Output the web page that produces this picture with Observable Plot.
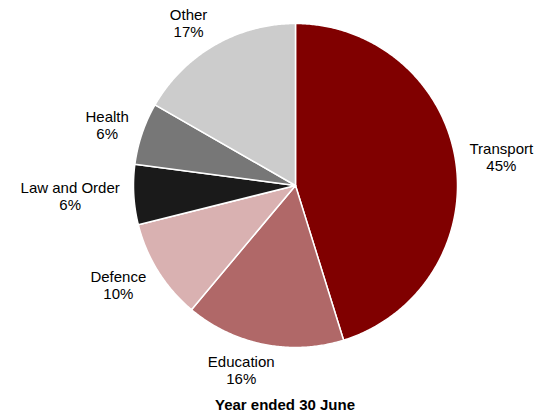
<!DOCTYPE html>
<html>
<head>
<meta charset="utf-8">
<script src="https://cdn.jsdelivr.net/npm/d3@7"></script>
<script src="https://cdn.jsdelivr.net/npm/@observablehq/plot@0.6"></script>
<style>
  body { margin: 0; background: #fff; font-family: "Liberation Sans", Arial, sans-serif; }
  #title { width: 539px; text-align: center; font-weight: bold; font-size: 15px; line-height: 18px; padding-left: 31px; box-sizing: border-box; color: #000; }
</style>
</head>
<body>
<div id="chart"></div>
<div id="title">Year ended 30 June</div>
<script>
const categories = ["Transport", "Education", "Defence", "Law and Order", "Health", "Other"];
const shares = [45.2, 15.9, 10.0, 6.0, 6.2, 16.7];
const colors = ["#800000", "#b06868", "#d9b1b1", "#1a1a1a", "#777777", "#cccccc"];

const W = 539, H = 396, R = 162, CX = 295, CY = 185;
const total = d3.sum(shares);

// slice geometry in unit-circle coordinates (angle clockwise from 12 o'clock)
const slices = [];
let acc = 0;
categories.forEach((c, i) => {
  const a0 = acc / total * 2 * Math.PI;
  acc += shares[i];
  const a1 = acc / total * 2 * Math.PI;
  slices.push({category: c, value: shares[i], a0, a1, mid: (a0 + a1) / 2});
});

const pts = [];
for (const s of slices) {
  pts.push({category: s.category, x: 0, y: 0});
  const n = Math.max(2, Math.ceil((s.a1 - s.a0) / (Math.PI / 360)));
  for (let k = 0; k <= n; k++) {
    const a = s.a0 + (s.a1 - s.a0) * k / n;
    pts.push({category: s.category, x: Math.sin(a), y: Math.cos(a)});
  }
  pts.push({category: s.category, x: 0, y: 0});
}

// label placement outside the slice (best-fit style)
const ctx = document.createElement("canvas").getContext("2d");
ctx.font = "15px 'Liberation Sans', Arial, sans-serif";
const clamp = v => Math.max(-1, Math.min(1, v));
const labels = slices.map(s => {
  const pct = Math.round(s.value) + "%";
  const hw = Math.max(ctx.measureText(s.category).width, ctx.measureText(pct).width) / 2;
  const sx = Math.sin(s.mid), cy = Math.cos(s.mid);
  const px = sx * (R + 14) + hw * clamp(3 * sx);
  const py = cy * (R + 14) + 12 * cy;
  return {text: s.category + "\n" + pct, x: px / R, y: py / R};
});

const chart = Plot.plot({
  width: W,
  height: H,
  margin: 0,
  x: {domain: [-CX / R, (W - CX) / R], axis: null},
  y: {domain: [-(H - CY) / R, CY / R], axis: null},
  color: {domain: categories, range: colors},
  style: {fontFamily: "'Liberation Sans', Arial, sans-serif", background: "#fff"},
  marks: [
    Plot.line(pts, {x: "x", y: "y", z: "category", fill: "category", stroke: "#fff", strokeWidth: 1.5, strokeLinejoin: "round", curve: "linear"}),
    Plot.text(labels, {x: "x", y: "y", text: "text", fontSize: 15, lineHeight: 1.13, fill: "#000", textAnchor: "middle", lineAnchor: "middle"})
  ]
});
document.getElementById("chart").appendChild(chart);
</script>
</body>
</html>
